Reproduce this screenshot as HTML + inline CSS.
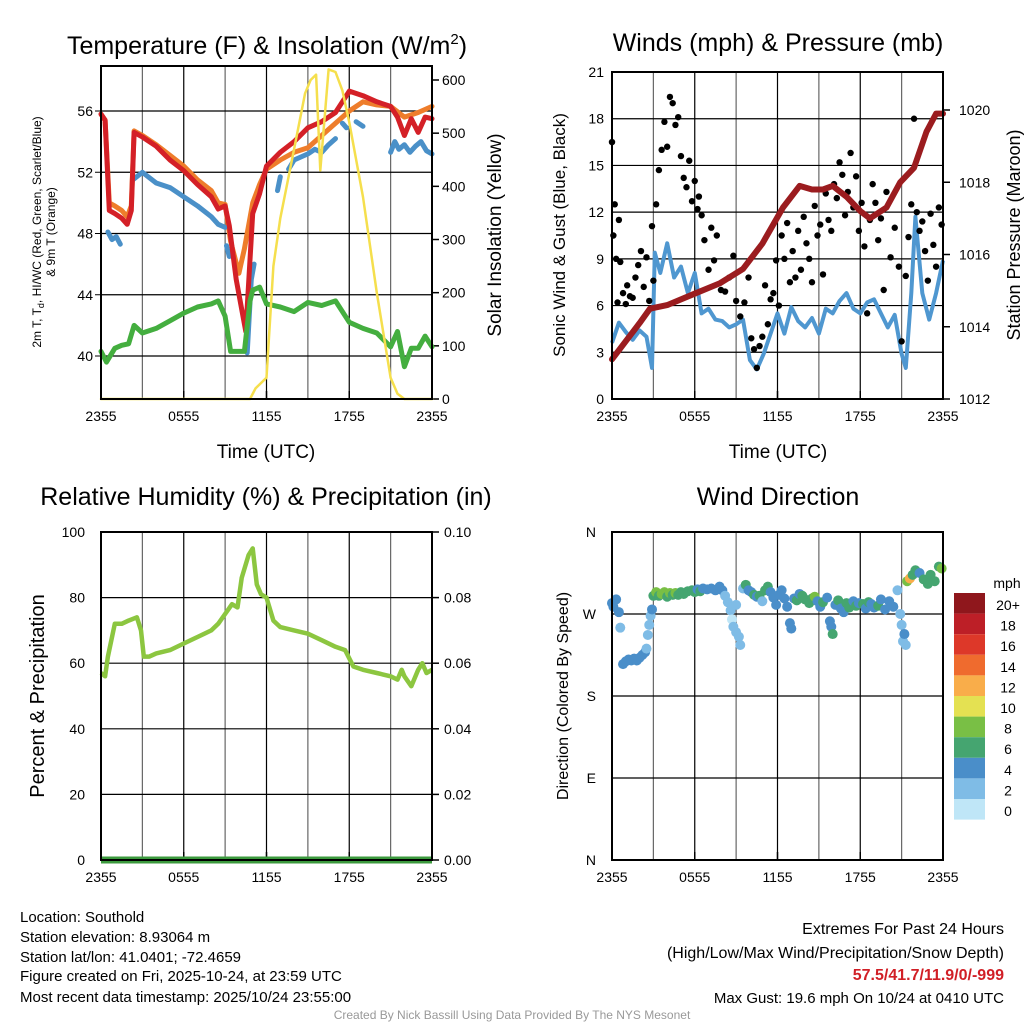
<!DOCTYPE html>
<html><head><meta charset="utf-8">
<style>
body{margin:0;background:#fff;width:1024px;height:1024px;overflow:hidden;font-family:"Liberation Sans",sans-serif;}
svg{display:block}
text{font-family:"Liberation Sans",sans-serif;fill:#000}
</style></head>
<body>
<svg id="c" width="1024" height="1024" xmlns="http://www.w3.org/2000/svg">
<text x="267" y="54" font-size="25" text-anchor="middle">Temperature (F) &amp; Insolation (W/m<tspan font-size="15" dy="-10">2</tspan><tspan dy="10">)</tspan></text>
<text x="778" y="51" font-size="25" text-anchor="middle">Winds (mph) &amp; Pressure (mb)</text>
<text x="266" y="505" font-size="25" text-anchor="middle">Relative Humidity (%) &amp; Precipitation (in)</text>
<text x="778" y="505" font-size="25" text-anchor="middle">Wind Direction</text>
<text x="266" y="458" font-size="19" text-anchor="middle">Time (UTC)</text>
<text x="778" y="458" font-size="19" text-anchor="middle">Time (UTC)</text>
<text transform="translate(41,232) rotate(-90)" font-size="12" text-anchor="middle">2m T, T<tspan font-size="9" dy="3">d</tspan><tspan dy="-3">, HI/WC (Red, Green, Scarlet/Blue)</tspan></text>
<text transform="translate(55,232) rotate(-90)" font-size="12" text-anchor="middle">&amp; 9m T (Orange)</text>
<text transform="translate(501,235) rotate(-90)" font-size="19" text-anchor="middle">Solar Insolation (Yellow)</text>
<text transform="translate(565,235) rotate(-90)" font-size="17" text-anchor="middle">Sonic Wind &amp; Gust (Blue, Black)</text>
<text transform="translate(1020,235) rotate(-90)" font-size="18" text-anchor="middle">Station Pressure (Maroon)</text>
<text transform="translate(44,696) rotate(-90)" font-size="20" text-anchor="middle">Percent &amp; Precipitation</text>
<text transform="translate(568,696) rotate(-90)" font-size="16" text-anchor="middle">Direction (Colored By Speed)</text>
<text x="1007" y="588" font-size="14" text-anchor="middle">mph</text>
<g font-size="15">
<text x="20" y="922">Location: Southold</text>
<text x="20" y="942">Station elevation: 8.93064 m</text>
<text x="20" y="962">Station lat/lon: 41.0401; -72.4659</text>
<text x="20" y="981">Figure created on Fri, 2025-10-24, at 23:59 UTC</text>
<text x="20" y="1002">Most recent data timestamp: 2025/10/24 23:55:00</text>
</g>
<g font-size="16" text-anchor="end">
<text x="1004" y="934">Extremes For Past 24 Hours</text>
<text x="1004" y="958">(High/Low/Max Wind/Precipitation/Snow Depth)</text>
<text x="1004" y="980" style="fill:#d11f26;font-weight:bold">57.5/41.7/11.9/0/-999</text>
<text x="1004" y="1003" font-size="15">Max Gust: 19.6 mph On 10/24 at 0410 UTC</text>
</g>
<text x="512" y="1019" font-size="12" text-anchor="middle" style="fill:#999">Created By Nick Bassill Using Data Provided By The NYS Mesonet</text>
</svg>
<script>
// ---------- data ----------
const xTickLabels=["2355","0555","1155","1755","2355"];
const tempTicks=[40,44,48,52,56];
const solarTicks=[0,100,200,300,400,500,600];
const windTicks=[0,3,6,9,12,15,18,21];
const presTicks=[1012,1014,1016,1018,1020];
const rhTicks=[0,20,40,60,80,100];
const precipTicks=["0.00","0.02","0.04","0.06","0.08","0.10"];
const dirTickLabels=["N","E","S","W","N"];
const cbLabels=["20+","18","16","14","12","10","8","6","4","2","0"];
const cbColors=["#8f171c","#bd1f27","#dd3829","#ef6b2e","#f9ad4a","#e4e152","#79bf45","#45a570","#4a8ec9","#7fbce6","#bfe6f7"];

const redT=[0,0.3,0.6,1,1.5,1.9,2.2,2.4,3,4,5,6,7,8,8.5,9,9.3,9.8,10.5,11,11.5,12,13,14,15,16,17,17.5,18,19,20,21,21.5,22,22.5,23,23.5,24];
const redV=[55.8,55.4,49.5,49.3,49,48.6,49.5,54.6,54.3,53.7,52.8,52.1,51.2,50.4,49.6,49.8,48.5,45,41.6,49.3,50.6,52.4,53.3,54,54.9,55.3,55.9,56.6,57.3,57,56.6,56.3,55.6,54.4,55.5,54.6,55.6,55.5];
const orT=[0,0.3,0.6,1,1.5,1.9,2.2,2.4,3,4,5,6,7,8,8.5,9,9.4,10,10.4,11,11.5,12,13,14,15,16,17,18,19,20,21,22,23,24];
const orV=[55.8,55.4,50,49.8,49.5,49.1,49.8,54.7,54.4,53.8,53.1,52.4,51.5,50.8,50,49.9,47.5,45.4,47,50,51.2,52.2,52.8,53.3,53.6,54.4,55.2,56,56.6,56.4,56.3,55.6,55.9,56.3];
const blT=[0.5,0.8,1.1,1.4,null,2.3,3,4,5,6,7,8,8.5,9,null,9.1,9.3,null,10.6,10.9,11.1,null,12.8,13,null,13.6,14,15,15.5,16,16.5,17,null,17.5,17.8,null,18.5,19,null,21,21.3,21.6,22,22.4,22.8,23.2,23.6,24];
const blV=[48.1,47.6,47.8,47.3,null,51.5,52,51.3,51,50.4,49.8,49.1,48.6,48.4,null,47.2,46.5,null,40.2,45,46,null,50.8,51.7,null,52.2,52.8,53.2,53.5,53.3,53.8,54.2,null,55.2,54.9,null,55.3,55,null,53.3,54,53.5,53.8,53.3,53.7,54,53.4,53.2];
const grT=[0,0.4,1,1.5,2,2.4,3,4,5,6,7,8,8.5,9,9.4,10.4,10.8,11,11.5,12,13,14,15,16,17,18,19,20,21,21.5,22,22.5,23,23.5,24];
const grV=[40.3,39.6,40.5,40.7,40.8,42,41.5,41.8,42.3,42.8,43.2,43.4,43.6,42.6,40.3,40.3,43.6,44.3,44.5,43.4,43.2,42.9,43.5,43.3,43.6,42.2,41.8,41.5,40.6,41.6,39.3,40.5,40.5,41.3,40.6];
const solT=[0,10.2,10.8,11.2,12,12.5,13,14,14.8,15.2,15.6,15.9,16.5,17,17.5,18,19,20,20.5,21,21.5,22,24];
const solV=[0,0,0,20,40,250,340,470,575,600,610,430,620,615,580,520,380,200,120,40,10,0,0];

const wsT=[0,0.5,1,1.5,2,2.5,2.9,3.1,3.5,4,4.5,5,5.5,6,6.5,7,7.5,8,8.5,9,9.5,10,10.5,11,11.5,12,12.5,13,13.5,14,14.5,15,15.5,16,16.5,17,17.5,18,18.5,19,19.5,20,20.5,21,21.3,21.7,22,22.5,23,23.5,24];
const wsV=[3.6,4.9,4.3,3.8,4.4,4,2,9.4,8.1,10,7.8,8.5,6.8,8.1,5.5,5.8,5.1,5,4.6,4.8,5.1,2.5,1.9,2.9,4.2,5.5,4.2,5.9,5,4.6,5.2,4.2,5.8,5.5,6.3,6.8,5.8,5.5,6.2,6.4,5.5,4.6,5.4,2.9,2.0,6.8,11.7,6.8,5.1,6.8,8.9];
const gustT=[0,0.1,0.2,0.3,0.4,0.5,0.6,0.8,1,1.1,1.3,1.5,1.7,1.9,2.1,2.3,2.5,2.7,2.9,3,3.2,3.4,3.6,3.8,4,4.2,4.4,4.6,4.8,5,5.2,5.4,5.6,5.8,6,6.2,6.3,6.5,6.7,7,7.2,7.4,7.6,7.9,8.2,8.5,8.8,9,9.3,9.6,9.9,10.1,10.3,10.5,10.7,10.9,11.1,11.3,11.5,11.7,11.9,12.1,12.3,12.5,12.7,12.9,13.1,13.3,13.5,13.7,13.9,14.1,14.3,14.5,14.7,14.9,15.1,15.3,15.5,15.7,15.9,16.1,16.3,16.5,16.7,16.9,17.1,17.3,17.5,17.7,17.9,18.1,18.3,18.5,18.7,18.9,19.1,19.3,19.5,19.7,19.9,20.2,20.5,20.8,21,21.3,21.5,21.7,21.9,22.1,22.3,22.5,22.7,22.9,23.1,23.3,23.5,23.7,23.9];
const gustV=[16.5,10.5,12.5,9,6.2,11.5,8.8,6.8,6.1,7.3,6.6,6.5,7.8,8.6,9.5,7.2,9.1,6.3,11.1,7.6,12.5,14.7,16,17.8,16.2,19.4,19,17.6,18.1,15.6,14.2,13.6,15.3,12.7,14,12.2,13,11.8,10.2,8.3,11,8.9,10.5,7,6.9,7.8,9.2,6.3,5.3,6.2,7.8,3.9,3.2,2,3.4,4,7.3,4.8,6.4,6.8,8.9,6,10.5,9,11.3,7.5,9.5,7.8,10.8,8.3,11.7,10,9,7.5,12.4,10.5,11.2,8,13.2,11.5,10.8,13.8,12.9,15.2,14.4,11.8,13.3,15.8,12.3,14.3,10.8,12.6,9.8,5.5,11.5,13.8,12.6,10.2,11.6,7,13.3,9.1,11,8.5,3.7,7.9,10.4,12.5,18,12,10.8,11.4,9.5,7.6,11.9,9.9,8.5,12.3,11.2];
const presT=[0,1,2,2.75,4,5.9,7.8,9.5,10.9,12.4,13.6,14.5,15.3,16,17,18,18.7,19.9,20.9,21.9,22.8,23.5,24];
const presV=[1013.1,1013.6,1014.1,1014.5,1014.6,1014.9,1015.2,1015.6,1016.3,1017.3,1017.9,1017.8,1017.8,1017.9,1017.6,1017.2,1017.0,1017.3,1018.0,1018.4,1019.4,1019.9,1019.9];

const rhT=[0,0.3,0.5,1,1.5,2,2.6,2.9,3.1,3.5,4,5,6,7,8,8.5,9,9.5,9.9,10.2,10.7,11,11.3,11.6,12,12.5,13,14,15,16,17,17.7,18.3,19,20,21,21.5,21.8,22,22.5,23,23.3,23.6,24];
const rhV=[57,56,62,72,72,73,74,70,62,62,63,64,66,68,70,72,75,78,77,86,93,95,84,81,80,73,71,70,69,67,65,64,59,58,57,56,55,58,56,53,58,60,57,58];
const precipT=[0,24];
const precipV=[0,0];

const dirT=[0,0.1,0.3,0.5,0.6,0.8,1,1.2,1.4,1.6,1.8,2,2.2,2.4,2.5,2.6,2.7,2.8,2.9,3,3.2,3.4,3.6,3.8,4,4.2,4.4,4.6,4.8,5,5.2,5.5,5.8,6,6.2,6.4,6.6,6.9,7.2,7.5,7.8,8,8.2,8.4,8.6,8.7,8.8,9,9.2,9.3,9,9.5,9.7,9.9,10.1,10.3,10.5,10.7,10.9,11.1,11.3,11.5,11.7,11.9,12.1,12.3,12.5,12.7,12.9,13,13.2,13.4,13.6,13.8,14,14.3,14.5,14.7,14.9,15.1,15.3,15.6,15.8,15.9,16,16.2,16.4,16.6,16.8,17,17.2,17.5,17.7,17.9,18.2,18.4,18.6,18.8,19,19.3,19.5,19.8,20.1,20.4,20.7,20.9,21,21.1,21.2,21.3,21.4,21.6,21.8,22,22.3,22.6,22.9,23.1,23.4,23.7,23.9];
const dirV=[282,278,286,272,255,215,218,220,219,221,219,222,225,228,232,247,258,268,275,290,294,290,292,294,289,293,291,293,291,294,292,295,296,294,297,295,298,297,298,296,300,296,290,283,274,264,256,250,245,236,280,298,302,296,294,291,289,290,284,296,300,294,288,280,291,296,287,278,260,254,287,285,292,290,286,282,287,289,284,278,283,288,262,256,248,280,285,276,272,282,277,284,279,282,281,276,283,281,277,279,286,275,284,278,296,270,258,240,248,236,306,309,313,318,315,308,303,313,306,322,320];
const dirS=[4,5,4,4,2,4,4,4,4,4,4,4,4,4,2,2,2,2,4,7,9,7,8,9,7,8,7,8,7,6,7,6,6,6,4,6,4,4,4,4,4,4,2,2,2,1,2,2,2,2,2,2,6,4,4,6,4,6,2,6,6,4,4,4,4,4,4,4,4,4,4,6,4,7,6,6,6,8,4,4,6,4,4,4,6,4,6,4,4,6,6,4,6,4,6,4,6,4,4,6,4,4,4,4,2,2,2,2,4,2,8,12,6,6,4,6,6,6,6,6,8];

// ---------- helpers ----------
const svg=document.getElementById('c');
const NS="http://www.w3.org/2000/svg";
function mk(tag,attrs,parent){const e=document.createElementNS(NS,tag);for(const k in attrs)e.setAttribute(k,attrs[k]);(parent||svg).appendChild(e);return e;}
function linear(d0,d1,r0,r1){return v=>r0+(v-d0)/(d1-d0)*(r1-r0);}

function panel(L,R,T,B,name){
  const g=mk('g',{});
  
  
  const x=linear(0,24,L,R);
  for(let h=3;h<24;h+=3){
    const gl=mk('line',{x1:x(h),x2:x(h),y1:T,y2:B,stroke:(h%6==0)?'#000':'#666','stroke-width':1.2},g);
    
    
  }
  for(let i=0;i<xTickLabels.length;i++){
    const t=mk('text',{x:x(i*6),y:B+22,'font-size':14,'text-anchor':'middle'},g);
    t.textContent=xTickLabels[i];
    
    
    mk('line',{x1:x(i*6),x2:x(i*6),y1:B,y2:B-8,stroke:'#000','stroke-width':1.5},g);
  }
  return {g,x};
}
function hgrid(g,y,L,R){
  const gl=mk('line',{x1:L,x2:R,y1:y,y2:y,stroke:'#000','stroke-width':1.2},g);
  
  
}
function ylabel(g,xp,y,txt,anchor,name){
  const t=mk('text',{x:xp,y:y+5,'font-size':14,'text-anchor':anchor},g);
  t.textContent=txt;
  
  
}
function pathFrom(T,V,x,y){
  let d='',pen=false;
  for(let i=0;i<T.length;i++){
    if(T[i]===null||V[i]===null){pen=false;continue;}
    d+=(pen?'L':'M')+x(T[i]).toFixed(1)+','+y(V[i]).toFixed(1);pen=true;
  }
  return d;
}
function frame(g,L,R,T,B){mk('rect',{x:L,y:T,width:R-L,height:B-T,fill:'none',stroke:'#000','stroke-width':2},g);}

// ---------- panel 1: temperature ----------
{
  const L=101,R=432,T=66,B=399;
  const p=panel(L,R,T,B,'temperature-panel');
  const y=linear(56,40,111,356);
  const ys=linear(0,600,399,80);
  tempTicks.forEach(v=>{hgrid(p.g,y(v),L,R);ylabel(p.g,L-8,y(v),String(v),'end','temp-tick-label');mk('line',{x1:L,x2:L-6,y1:y(v),y2:y(v),stroke:'#000'},p.g);});
  solarTicks.forEach(v=>{ylabel(p.g,R+10,ys(v),String(v),'start','solar-tick-label');mk('line',{x1:R,x2:R+7,y1:ys(v),y2:ys(v),stroke:'#000','stroke-width':1.5},p.g);});
  const s=[['#ee7d2b',orT,orV,'orange-9m-temp-line',y],['#4a90c8',blT,blV,'blue-hiwc-line',y],['#d42027',redT,redV,'red-2m-temp-line',y],['#44ae3f',grT,grV,'green-dewpoint-line',y],['#f5df4d',solT,solV,'yellow-solar-line',ys]];
  s.forEach(a=>{
    const pth=mk('path',{d:pathFrom(a[1],a[2],p.x,a[4]),fill:'none',stroke:a[0],'stroke-width':a[3].startsWith('yellow')?2.5:5,'stroke-linejoin':'round','stroke-linecap':'round'},p.g);
    
    
  });
  frame(p.g,L,R,T,B);
}
// ---------- panel 2: winds ----------
{
  const L=612,R=943,T=72,B=399;
  const p=panel(L,R,T,B,'winds-panel');
  const y=linear(0,21,399,72);
  const yp=linear(1012,1020,399,110);
  windTicks.forEach(v=>{if(v>0&&v<21)hgrid(p.g,y(v),L,R);ylabel(p.g,L-8,y(v),String(v),'end','wind-tick-label');});
  presTicks.forEach(v=>{ylabel(p.g,R+16,yp(v),String(v),'start','pressure-tick-label');mk('line',{x1:R,x2:R+7,y1:yp(v),y2:yp(v),stroke:'#000','stroke-width':1.5},p.g);});
  const ws=mk('path',{d:pathFrom(wsT,wsV,p.x,y),fill:'none',stroke:'#4f97d0','stroke-width':4,'stroke-linejoin':'round'},p.g);
  
  
  for(let i=0;i<gustT.length;i++){
    const c=mk('circle',{cx:p.x(gustT[i]),cy:y(gustV[i]),r:3.2,fill:'#000'},p.g);
    
    
  }
  const pr=mk('path',{d:pathFrom(presT,presV,p.x,yp),fill:'none',stroke:'#9b1c1f','stroke-width':6,'stroke-linejoin':'round','stroke-linecap':'round'},p.g);
  
  
  frame(p.g,L,R,T,B);
}
// ---------- panel 3: humidity ----------
{
  const L=101,R=432,T=532,B=860;
  const p=panel(L,R,T,B,'humidity-panel');
  const y=linear(0,100,860,532);
  rhTicks.forEach((v,i)=>{if(v>0&&v<100)hgrid(p.g,y(v),L,R);ylabel(p.g,L-16,y(v),String(v),'end','rh-tick-label');ylabel(p.g,R+12,y(v),precipTicks[i],'start','precip-tick-label');mk('line',{x1:R,x2:R+7,y1:y(v),y2:y(v),stroke:'#000','stroke-width':1.5},p.g);});
  const yq=linear(0,0.1,860,532);
  const pp=mk('path',{d:pathFrom(precipT,precipV,p.x,yq),fill:'none',stroke:'#3c9a3e','stroke-width':7},p.g);
  
  
  const rl=mk('path',{d:pathFrom(rhT,rhV,p.x,y),fill:'none',stroke:'#8cc640','stroke-width':4.5,'stroke-linejoin':'round'},p.g);
  
  
  frame(p.g,L,R,T,B);
}
// ---------- panel 4: wind direction ----------
{
  const L=612,R=943,T=532,B=860;
  const p=panel(L,R,T,B,'wind-direction-panel');
  const y=linear(0,360,860,532);
  dirTickLabels.forEach((lab,i)=>{const v=i*90;if(v>0&&v<360)hgrid(p.g,y(v),L,R);ylabel(p.g,L-16,y(v),lab,'end','direction-tick-label');});
  for(let i=0;i<dirT.length;i++){
    const bin=Math.min(10,Math.floor(dirS[i]/2));
    const c=mk('circle',{cx:p.x(dirT[i]),cy:y(dirV[i]),r:5,fill:cbColors[10-bin]},p.g);
    
    
  }
  frame(p.g,L,R,T,B);
  for(let i=0;i<cbLabels.length;i++){
    const r=mk('rect',{x:954,y:593+i*20.6,width:31,height:20.6,fill:cbColors[i]});
    
    
    const t=mk('text',{x:1008,y:610+i*20.6,'font-size':14,'text-anchor':'middle'});
    t.textContent=cbLabels[i];
    
    
  }
}
</script>
</body></html>
